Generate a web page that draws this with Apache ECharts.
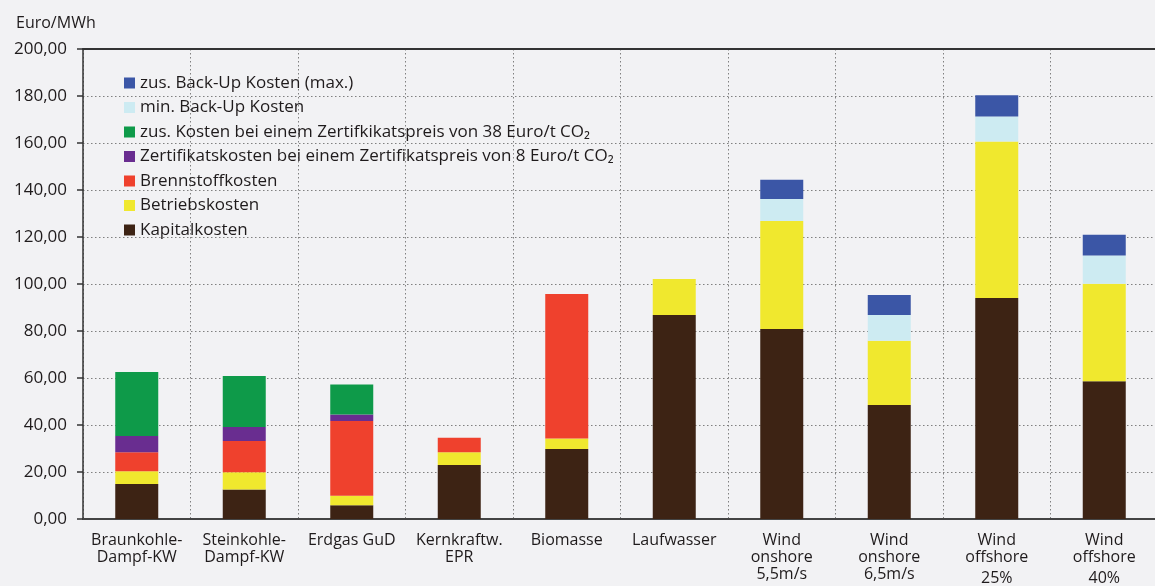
<!DOCTYPE html>
<html>
<head>
<meta charset="utf-8">
<script src="https://cdn.jsdelivr.net/npm/echarts@6/dist/echarts.min.js"></script>
<style>
  html, body { margin: 0; padding: 0; background: #f2f2f4; }
  #chart { width: 1155px; height: 586px; }
</style>
</head>
<body>
<div id="chart"></div>
<script>
// Stromgestehungskosten nach Kraftwerkstyp, Euro/MWh
const categories = [
  'Braunkohle-\nDampf-KW', 'Steinkohle-\nDampf-KW', 'Erdgas GuD', 'Kernkraftw.\nEPR',
  'Biomasse', 'Laufwasser', 'Wind\nonshore\n5,5m/s', 'Wind\nonshore\n6,5m/s',
  'Wind\noffshore\n25%', 'Wind\noffshore\n40%'
];
const kapitalkosten    = [14.9, 12.6, 5.8, 23.0, 29.8, 86.8, 80.9, 48.5, 94.0, 58.6];
const betriebskosten   = [5.4, 7.3, 4.1, 5.4, 4.5, 15.3, 45.9, 27.4, 66.6, 41.5];
const brennstoffkosten = [8.1, 13.3, 31.8, 6.2, 61.4, null, null, null, null, null];
const zertifikat8      = [6.9, 5.9, 2.8, null, null, null, null, null, null, null];
const zusZertifikat38  = [27.3, 21.8, 12.7, null, null, null, null, null, null, null];
const minBackUp        = [null, null, null, null, null, null, 9.4, 10.9, 10.7, 12.0];
const zusBackUpMax     = [null, null, null, null, null, null, 8.2, 8.5, 9.0, 8.9];
const yTicks = { min: 0, max: 200, interval: 20 };

const names = {
  max: 'zus. Back-Up Kosten (max.)',
  min: 'min. Back-Up Kosten',
  z38: 'zus. Kosten bei einem Zertifkikatspreis von 38 Euro/t CO₂',
  z8: 'Zertifikatskosten bei einem Zertifikatspreis von 8 Euro/t CO₂',
  brenn: 'Brennstoffkosten',
  betr: 'Betriebskosten',
  kap: 'Kapitalkosten'
};

const font = 'Open Sans';
const textColor = '#1f1b1c';

function bar(name, data, color) {
  return {
    name, type: 'bar', stack: 'kosten', data,
    barWidth: '40%',
    itemStyle: { color },
    emphasis: { disabled: true }
  };
}

const chart = echarts.init(document.getElementById('chart'));
chart.setOption({
  backgroundColor: '#f2f2f4',
  animation: false,
  textStyle: { fontFamily: font, color: textColor },
  title: {
    text: 'Euro/MWh', left: 11, top: 10,
    textStyle: { fontFamily: font, fontSize: 16, fontWeight: 'normal', color: textColor }
  },
  legend: {
    orient: 'vertical', left: 119, top: 69,
    itemWidth: 11, itemHeight: 11, itemGap: 6.5,
    icon: 'rect',
    data: [names.max, names.min, names.z38, names.z8, names.brenn, names.betr, names.kap],
    textStyle: { fontFamily: font, fontSize: 17, color: textColor, lineHeight: 18 }
  },
  grid: { left: 83, right: -3, top: 49, bottom: 67, outerBoundsMode: 'none', containLabel: false },
  xAxis: [{
    type: 'category', data: categories, position: 'bottom',
    axisLine: { lineStyle: { color: '#444', width: 2 } },
    axisTick: { show: false },
    axisLabel: {
      interval: 0, margin: 13, fontFamily: font, fontSize: 16, color: textColor, lineHeight: 17,
      formatter: function (v) {
        const parts = v.split('\n');
        if (parts[parts.length - 1].indexOf('%') >= 0) {
          return '{a|' + parts.slice(0, -1).join('\n') + '}\n{p|' + parts[parts.length - 1] + '}';
        }
        return v;
      },
      rich: {
        a: { fontFamily: font, fontSize: 16, color: textColor, lineHeight: 17 },
        p: { fontFamily: font, fontSize: 16, color: textColor, lineHeight: 25 }
      }
    },
    splitLine: { show: true, interval: 0, lineStyle: { color: '#808080', type: [1.5, 2.5], width: 1 } }
  }, {
    type: 'category', data: categories, position: 'top',
    axisLine: { lineStyle: { color: '#333', width: 2 } },
    axisTick: { show: false }, axisLabel: { show: false }, splitLine: { show: false }
  }],
  yAxis: {
    type: 'value', min: yTicks.min, max: yTicks.max, interval: yTicks.interval,
    axisLine: { show: true, lineStyle: { color: '#333', width: 1.5 } },
    axisTick: { show: true, length: 6, lineStyle: { color: '#333', width: 1.5 } },
    axisLabel: {
      margin: 16, fontFamily: font, fontSize: 17, color: textColor,
      formatter: v => v.toFixed(2).replace('.', ',')
    },
    splitLine: { show: true, lineStyle: { color: '#808080', type: [1.5, 2.5], width: 1 } }
  },
  series: [
    bar(names.kap, kapitalkosten, '#3d2314'),
    bar(names.betr, betriebskosten, '#f0e82e'),
    bar(names.brenn, brennstoffkosten, '#ef412d'),
    bar(names.z8, zertifikat8, '#692d90'),
    bar(names.z38, zusZertifikat38, '#0e9a49'),
    bar(names.min, minBackUp, '#cdebf2'),
    bar(names.max, zusBackUpMax, '#3b56a6')
  ]
});
</script>
</body>
</html>
